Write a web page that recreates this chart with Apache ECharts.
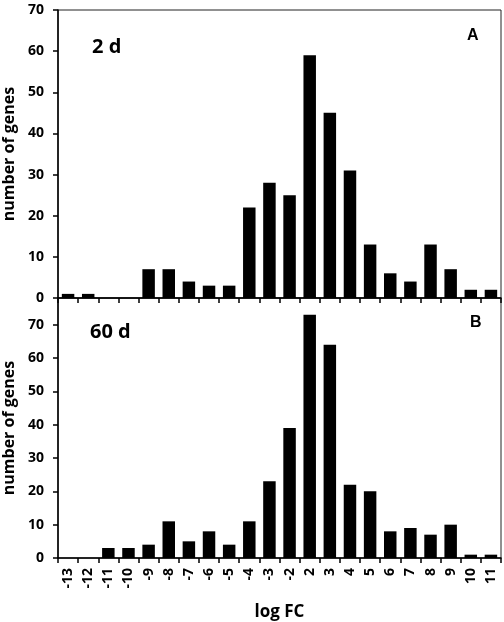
<!DOCTYPE html>
<html>
<head>
<meta charset="utf-8">
<script src="https://cdn.jsdelivr.net/npm/echarts@6/dist/echarts.min.js"></script>
<style>
  html, body { margin: 0; padding: 0; background: #fff; }
  #chart { width: 504px; height: 622px; }
</style>
</head>
<body>
<div id="chart"></div>
<script>
const logFC = ['-13', '-12', '-11', '-10', '-9', '-8', '-7', '-6', '-5', '-4', '-3', '-2',
  '2', '3', '4', '5', '6', '7', '8', '9', '10', '11']
const genes2d = [1, 1, 0, 0, 7, 7, 4, 3, 3, 22, 28, 25, 59, 45, 31, 13, 6, 4, 13, 7, 2, 2]
const genes60d = [0, 0, 3, 3, 4, 11, 5, 8, 4, 11, 23, 39, 73, 64, 22, 20, 8, 9, 7, 10, 1, 1]
const yTicks = [0, 10, 20, 30, 40, 50, 60, 70]

const font = '"Open Sans", "DejaVu Sans", sans-serif'
const chart = echarts.init(document.getElementById('chart'), null, { renderer: 'canvas' })

const axisLine = { show: true, lineStyle: { color: '#000', width: 1.5 } }

function yAxis(gridIndex, max) {
  return {
    type: 'value',
    gridIndex,
    min: 0,
    max,
    interval: 10,
    name: 'number of genes',
    nameLocation: 'middle',
    nameGap: 39,
    nameTextStyle: { color: '#000', fontFamily: font, fontWeight: 'bold', fontSize: 16 },
    axisLine,
    axisTick: { show: true, length: 5, lineStyle: { color: '#000', width: 1.5 }, customValues: yTicks },
    axisLabel: { color: '#000', fontFamily: font, fontWeight: 'bold', fontSize: 14, margin: 14, customValues: yTicks },
    splitLine: { show: false },
  }
}

function xAxis(gridIndex, withLabels) {
  return {
    type: 'category',
    gridIndex,
    data: logFC,
    axisLine,
    axisTick: { show: true, length: 5, lineStyle: { color: '#000', width: 1.5 } },
    axisLabel: {
      show: withLabels,
      rotate: 90,
      interval: 0,
      color: '#000',
      fontFamily: font,
      fontWeight: 'bold',
      fontSize: 14,
      margin: 10,
    },
    name: withLabels ? 'log FC' : '',
    nameLocation: 'middle',
    nameGap: 46,
    nameTextStyle: { color: '#000', fontFamily: font, fontWeight: 'bold', fontSize: 17 },
  }
}

const labelStyle = (size, family) => ({ fill: '#000', font: `bold ${size}px ${family}` })

chart.setOption({
  animation: false,
  grid: [
    { left: 58, right: 3, top: 10, height: 288, show: true, borderColor: '#222', borderWidth: 1, outerBoundsMode: 'none' },
    { left: 58, right: 3, top: 298, height: 260, show: true, borderColor: '#222', borderWidth: 1, outerBoundsMode: 'none' },
  ],
  xAxis: [xAxis(0, false), xAxis(1, true)],
  yAxis: [yAxis(0, 70), yAxis(1, 78)],
  series: [
    { type: 'bar', xAxisIndex: 0, yAxisIndex: 0, data: genes2d, barWidth: '62%', itemStyle: { color: '#000' } },
    { type: 'bar', xAxisIndex: 1, yAxisIndex: 1, data: genes60d, barWidth: '62%', itemStyle: { color: '#000' } },
  ],
  graphic: [
    { type: 'text', left: 92, top: 37, style: { text: '2 d', ...labelStyle(20, font) } },
    { type: 'text', left: 90, top: 322, style: { text: '60 d', ...labelStyle(20, font) } },
    { type: 'text', left: 467, top: 28, style: { text: 'A', ...labelStyle(16, '"Liberation Sans", Arial, sans-serif') } },
    { type: 'text', left: 470, top: 315, style: { text: 'B', ...labelStyle(16, '"Liberation Sans", Arial, sans-serif') } },
  ],
})
</script>
</body>
</html>
